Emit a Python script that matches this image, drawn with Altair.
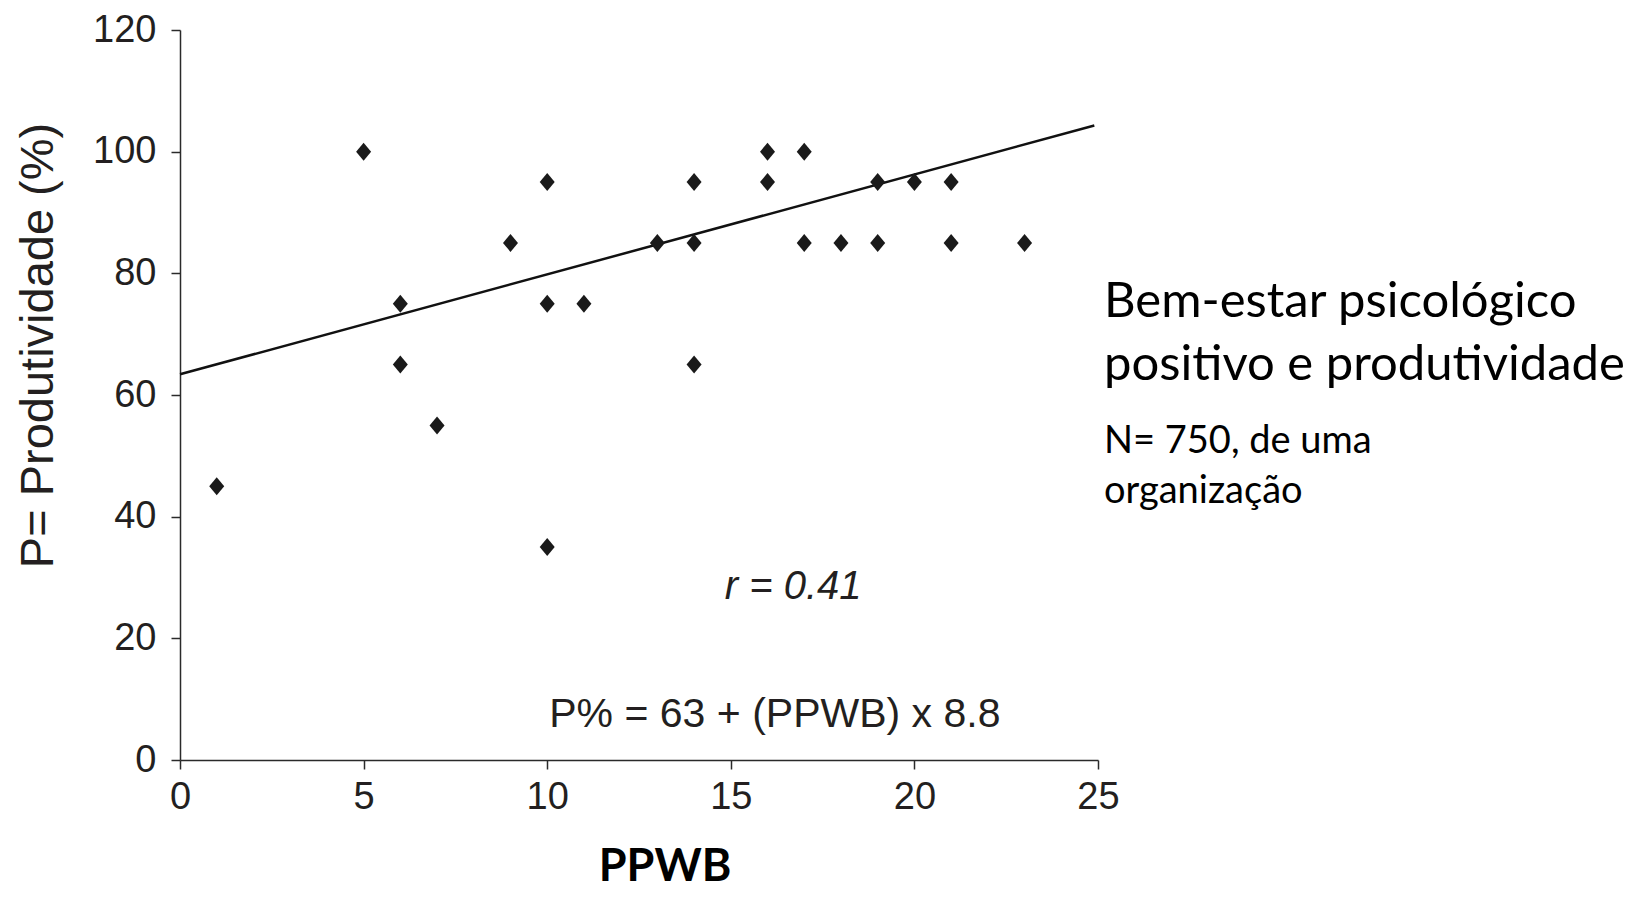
import altair as alt
import pandas as pd

# ---- data ----
ppwb = [1, 5, 6, 6, 7, 9, 10, 10, 10, 11, 13, 14, 14, 14, 16, 16, 17, 17, 18, 19, 19, 20, 21, 21, 23]
prod = [45, 100, 75, 65, 55, 85, 95, 75, 35, 75, 85, 95, 85, 65, 100, 95, 100, 85, 85, 95, 85, 95, 95, 85, 85]
trend_x = [0, 24.9]
trend_y = [63.4, 104.3]
x_ticks = [0, 5, 10, 15, 20, 25]
y_ticks = [0, 20, 40, 60, 80, 100, 120]

title_lines = ["Bem-estar psicológico", "positivo e produtividade"]
note_lines = ["N= 750, de uma", "organização"]
r_text = ["r = 0.41"]
eq_text = ["P% = 63 + (PPWB) x 8.8"]
x_title = "PPWB"
y_title = "P= Produtividade (%)"

pts = pd.DataFrame({"PPWB": ppwb, "P": prod})
trend = pd.DataFrame({"PPWB": trend_x, "P": trend_y})

INK = "#231f20"
ARIAL = "Liberation Sans"

xscale = alt.Scale(domain=[0, 25], nice=False, zero=False)
yscale = alt.Scale(domain=[0, 120], nice=False)

xenc = alt.X(
    "PPWB:Q", scale=xscale,
    axis=alt.Axis(values=x_ticks, title=None, grid=False, tickSize=9, labelPadding=9,
                  labelFontSize=38, labelFont=ARIAL, labelColor=INK,
                  domainColor="#2a2a2a", tickColor="#2a2a2a", domainWidth=1.5, tickWidth=1.5,
                  labelFlush=False),
)
yenc = alt.Y(
    "P:Q", scale=yscale,
    axis=alt.Axis(values=y_ticks, title=y_title, grid=False, tickSize=9, labelPadding=15,
                  labelFontSize=38, labelFont=ARIAL, labelColor=INK,
                  domainColor="#2a2a2a", tickColor="#2a2a2a", domainWidth=1.5, tickWidth=1.5,
                  titleFont=ARIAL, titleFontSize=47, titleFontWeight="normal", titleColor=INK,
                  titleX=-128, titleY=315, titleBaseline="alphabetic", titleAlign="center",
                  labelFlush=False),
)

line = alt.Chart(trend).mark_line(color="#111", strokeWidth=2.5).encode(x=xenc, y=yenc)

points = alt.Chart(pts).mark_point(
    shape="M-1,0L0,-1.2L1,0L0,1.2Z", filled=True, size=225, color="#1a1a1a", opacity=1
).encode(x="PPWB:Q", y="P:Q")

r_df = pd.DataFrame({"x": [16.7], "y": [26.5], "t": r_text})
r_mark = alt.Chart(r_df).mark_text(
    font=ARIAL, fontSize=40, fontStyle="italic", color=INK, align="center", baseline="alphabetic"
).encode(x="x:Q", y="y:Q", text="t:N")

eq_df = pd.DataFrame({"x": [16.2], "y": [5.4], "t": eq_text})
eq_mark = alt.Chart(eq_df).mark_text(
    font=ARIAL, fontSize=41, color=INK, align="center", baseline="alphabetic"
).encode(x="x:Q", y="y:Q", text="t:N")

def label(text, px, py, size, weight="normal", align="left"):
    return alt.Chart(pd.DataFrame({"t": [text]})).mark_text(
        font="Lato", fontSize=size, fontWeight=weight, color="#000", align=align,
        baseline="alphabetic"
    ).encode(x=alt.value(px), y=alt.value(py), text="t:N")

layers = [line, points, r_mark, eq_mark,
          label(title_lines[0], 924, 287, 49),
          label(title_lines[1], 924, 350, 49),
          label(note_lines[0], 924, 423, 38),
          label(note_lines[1], 924, 473, 38),
          label(x_title, 485, 851, 45, weight="bold", align="center")]

chart = alt.layer(*layers).properties(
    width=918, height=730,
    background="white",
    autosize=alt.AutoSizeParams(type="none"),
    padding={"left": 172, "top": 22, "right": 530, "bottom": 131},
).configure_view(strokeWidth=0)

chart.save("out.html", embed_options={"renderer": "svg", "actions": False})
